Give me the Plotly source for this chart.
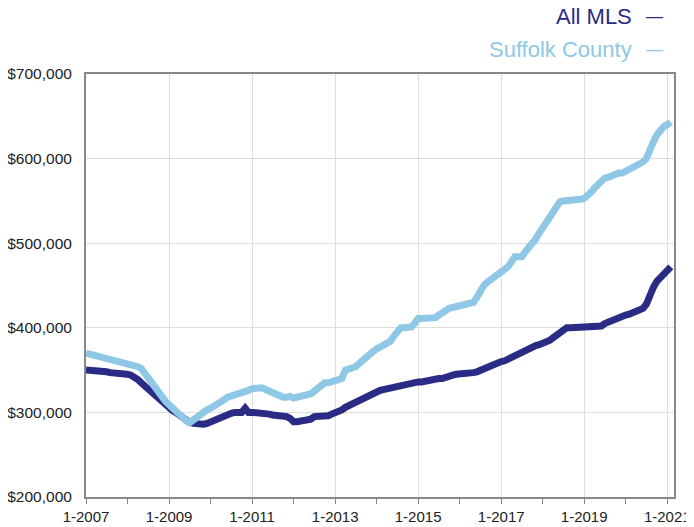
import pandas as pd
import plotly.graph_objects as go

# monthly values, 1-2007 .. 2-2021 (thousands of dollars)
all_mls = [
    350, 350, 349, 349, 348, 348, 348, 347, 347, 346, 346, 345,  # 2007
    345, 344, 342, 339, 335, 331, 327, 323, 319, 315, 311, 308,  # 2008
    305, 302, 300, 297, 293, 290, 288, 287, 286, 285, 286, 287,  # 2009
    289, 291, 293, 295, 297, 298, 299, 300, 300, 300, 305, 300,  # 2010
    300, 300, 300, 300, 299, 298, 297, 297, 296, 295, 295, 293,  # 2011
    289, 289, 290, 290, 290, 292, 295, 295, 294, 295, 296, 298,  # 2012
    299, 301, 303, 306, 308, 311, 314, 316, 318, 320, 322, 324,  # 2013
    325, 326, 327, 328, 330, 330, 331, 332, 333, 334, 334, 335,  # 2014
    336, 336, 337, 338, 338, 339, 340, 340, 342, 343, 344, 345,  # 2015
    345, 346, 346, 346, 347, 348, 350, 350, 352, 354, 356, 358,  # 2016
    360, 361, 363, 365, 367, 370, 371, 373, 375, 377, 379, 380,  # 2017
    381, 382, 385, 388, 391, 395, 398, 400, 400, 400, 400, 400,  # 2018
    400, 400, 400, 400, 400, 402, 405, 407, 409, 411, 413, 414,  # 2019
    415, 416, 418, 420, 421, 423, 428, 440, 448, 455, 460, 464,  # 2020
    468, 472,                                                    # 2021
]

suffolk = [
    370, 369, 368, 367, 365, 364, 363, 363, 362, 362, 361, 360,  # 2007
    359, 358, 356, 354, 352, 346, 340, 335, 330, 324, 318, 313,  # 2008
    309, 305, 300, 295, 293, 290, 288, 291, 296, 298, 300, 303,  # 2009
    305, 307, 309, 312, 315, 318, 319, 320, 321, 323, 325, 326,  # 2010
    328, 329, 330, 329, 327, 325, 323, 322, 320, 318, 318, 319,  # 2011
    317, 318, 318, 319, 320, 322, 325, 329, 332, 335, 335, 336,  # 2012
    336, 338, 340, 350, 351, 352, 354, 358, 362, 366, 368, 372,  # 2013
    375, 377, 380, 382, 384, 390, 395, 400, 400, 400, 401, 405,  # 2014
    411, 411, 411, 411, 411, 412, 415, 418, 421, 423, 424, 425,  # 2015
    425, 425, 426, 427, 430, 436, 445, 450, 454, 457, 459, 462,  # 2016
    465, 468, 472, 478, 484, 484, 484, 490, 495, 498, 505, 512,  # 2017
    518, 525, 530, 537, 543, 549, 550, 550, 550, 551, 552, 552,  # 2018
    553, 556, 560, 565, 570, 575, 577, 578, 580, 582, 583, 583,  # 2019
    585, 587, 589, 590, 593, 596, 600, 612, 620, 628, 635, 638,  # 2020
    640, 643,                                                    # 2021
]

months = pd.date_range("2007-01-01", periods=len(all_mls), freq="MS")
tick_years = list(range(2007, 2022, 2))
tick_labels = [f"1-{y}" for y in tick_years]

NAVY = "#2a2b84"
SKY = "#8ec8e6"
FONT = "Liberation Sans, Arial, Helvetica, sans-serif"

fig = go.Figure()
fig.add_trace(go.Scatter(x=months, y=[v * 1000 for v in all_mls], mode="lines",
                         line=dict(color=NAVY, width=7), name="All MLS"))
fig.add_trace(go.Scatter(x=months, y=[v * 1000 for v in suffolk], mode="lines",
                         line=dict(color=SKY, width=7), name="Suffolk County"))

# page body adds an 8px margin, so the figure is sized to fit inside it
fig.update_layout(
    width=686, height=519,
    margin=dict(l=78, r=20, t=66, b=30, autoexpand=False),
    paper_bgcolor="white", plot_bgcolor="white",
    showlegend=False,
    font=dict(family=FONT, size=16, color="#222"),
)
fig.update_xaxes(
    range=["2007-01-01", "2021-03-01"],
    tickmode="array",
    tickvals=[f"{y}-01-01" for y in tick_years],
    ticktext=tick_labels,
    ticklabeloverflow="allow",
    tickfont=dict(size=15),
    ticks="outside", ticklen=5, tickcolor="#888",
    showgrid=True, gridcolor="#dddddd", gridwidth=1,
    showline=True, linecolor="#888", linewidth=2, mirror=True,
    minor=dict(tickvals=[f"{y}-01-01" for y in range(2008, 2022, 2)],
               ticks="outside", ticklen=5, tickcolor="#888", showgrid=False),
    zeroline=False,
)
fig.update_yaxes(
    range=[200000, 700000], dtick=100000, tickformat="$,.0f",
    tickfont=dict(size=15.5),
    showgrid=True, gridcolor="#dddddd", gridwidth=1,
    showline=True, linecolor="#888", linewidth=2, mirror=True,
    ticks="", ticklabelstandoff=9, zeroline=False,
)

# legend: coloured names with a short dash swatch
for name, color, ypos in [("All MLS", NAVY, 1.135), ("Suffolk County", SKY, 1.057)]:
    fig.add_annotation(text=name, xref="paper", yref="paper", x=0.932, y=ypos,
                       xanchor="right", yanchor="middle", showarrow=False,
                       font=dict(family=FONT, size=22, color=color))
    fig.add_annotation(text="\u2014", xref="paper", yref="paper", x=0.967, y=ypos,
                       xanchor="center", yanchor="middle", showarrow=False,
                       font=dict(family=FONT, size=17, color=color))

fig.write_html("out.html")
